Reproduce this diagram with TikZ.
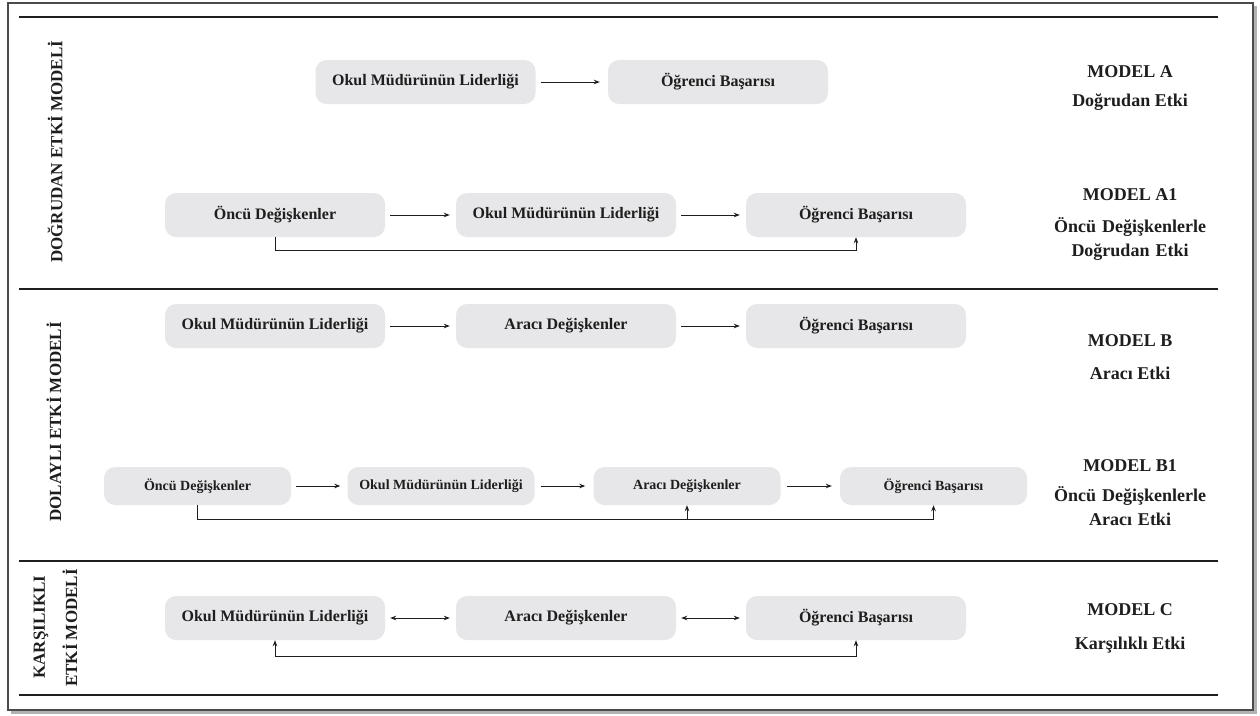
\documentclass[tikz,border=0pt]{standalone}
\usepackage{fontspec}
\setmainfont{Liberation Serif}
\usetikzlibrary{arrows.meta,calc}
\definecolor{boxgray}{HTML}{E7E7E9}
\definecolor{ink}{HTML}{1E1E1E}
\tikzset{
  box/.style={fill=boxgray,rounded corners=11pt,minimum width=220pt,minimum height=44pt,inner sep=0pt,text=ink,font=\fontsize{16}{18}\selectfont\bfseries},
  smallbox/.style={box,minimum width=187pt,minimum height=38pt,font=\fontsize{14}{16}\selectfont\bfseries},
  conn/.style={draw=ink,line width=0.9pt,-{Stealth[length=6pt,width=4.5pt]}},
  biconn/.style={draw=ink,line width=0.9pt,{Stealth[length=6pt,width=4.5pt]}-{Stealth[length=6pt,width=4.5pt]}},
  plain/.style={draw=ink,line width=0.9pt},
  modeltitle/.style={text=ink,font=\fontsize{18}{20}\selectfont\bfseries},
  modeltext/.style={text=ink,font=\fontsize{18}{20}\selectfont\bfseries,align=center},
  sidelabel/.style={text=ink,rotate=90,font=\fontsize{17}{19}\selectfont\bfseries,align=center},
  rule/.style={draw=ink,line width=1.3pt}
}
\begin{document}
\begin{tikzpicture}[x=1pt,y=-1pt]
\useasboundingbox (0,0) rectangle (1260,715);
\fill[white] (0,0) rectangle (1260,715);
% frame with shadow
\fill[gray!60] (11,6) rectangle (1257,714);
\fill[white] (8,3) rectangle (1253,710);
\draw[ink!80,line width=1.4pt] (8,3) rectangle (1253,710);
% horizontal rules
\draw[rule] (19,17) -- (1218,17);
\draw[rule,line width=2.6pt] (19,289) -- (1218,289);
\draw[rule] (19,561) -- (1218,561);
\draw[rule] (19,695) -- (1218,695);
% side labels
\node[sidelabel] (sideA) at (55,152) {DOĞRUDAN ETKİ MODELİ};
\node[sidelabel] (sideB) at (54,422) {DOLAYLI ETKİ MODELİ};
\node[sidelabel] (sideC1) at (41,627) {KARŞILIKLI};
\node[sidelabel] (sideC2) at (70,628) {ETKİ MODELİ};
% Model A
\node[box] (aL) at (425.5,82) {Okul Müdürünün Liderliği};
\node[box] (aS) at (718,82) {Öğrenci Başarısı};
\draw[conn,shorten <=5pt,shorten >=8pt] (aL) -- (aS);
% Model A1
\node[box] (a1P) at (275,215) {Öncü Değişkenler};
\node[box] (a1L) at (566,215) {Okul Müdürünün Liderliği};
\node[box] (a1S) at (856,215) {Öğrenci Başarısı};
\draw[conn,shorten <=5pt,shorten >=6pt] (a1P) -- (a1L);
\draw[conn,shorten <=5pt,shorten >=6pt] (a1L) -- (a1S);
\draw[conn] (a1P.south) -- ++(0,13) -| (a1S.south);
% Model B
\node[box] (bL) at (275,326) {Okul Müdürünün Liderliği};
\node[box] (bM) at (566,326) {Aracı Değişkenler};
\node[box] (bS) at (856,326) {Öğrenci Başarısı};
\draw[conn,shorten <=5pt,shorten >=6pt] (bL) -- (bM);
\draw[conn,shorten <=5pt,shorten >=6pt] (bM) -- (bS);
% Model B1
\node[smallbox] (b1P) at (197.5,486) {Öncü Değişkenler};
\node[smallbox] (b1L) at (441,486) {Okul Müdürünün Liderliği};
\node[smallbox] (b1M) at (687,486) {Aracı Değişkenler};
\node[smallbox] (b1S) at (933.5,486) {Öğrenci Başarısı};
\draw[conn,shorten <=5pt,shorten >=7pt] (b1P) -- (b1L);
\draw[conn,shorten <=6pt,shorten >=8pt] (b1L) -- (b1M);
\draw[conn,shorten <=6pt,shorten >=8pt] (b1M) -- (b1S);
\coordinate (b1base) at ($(b1P.south)+(0,14)$);
\draw[conn] (b1P.south) -- (b1base) -| (b1S.south);
\draw[conn] (b1M.south |- b1base) -- (b1M.south);
% Model C
\node[box] (cL) at (275,618) {Okul Müdürünün Liderliği};
\node[box] (cM) at (566,618) {Aracı Değişkenler};
\node[box] (cS) at (856,618) {Öğrenci Başarısı};
\draw[biconn,shorten <=5pt,shorten >=6pt] (cL) -- (cM);
\draw[biconn,shorten <=5pt,shorten >=6pt] (cM) -- (cS);
\draw[biconn] (cL.south) -- ++(0,16) -| (cS.south);
% right labels
\node[modeltitle] (tA) at (1130,72) {MODEL A};
\node[modeltext] (dA) at (1130,102) {Doğrudan Etki};
\node[modeltitle] (tA1) at (1130,195) {MODEL A1};
\node[modeltext,text width=160pt,font=\fontsize{18}{24}\selectfont\bfseries] (dA1) at (1130,239) {Öncü Değişkenlerle\\Doğrudan Etki};
\node[modeltitle] (tB) at (1130,341) {MODEL B};
\node[modeltext] (dB) at (1130,373) {Aracı Etki};
\node[modeltitle] (tB1) at (1130,466) {MODEL B1};
\node[modeltext,text width=160pt,font=\fontsize{18}{24}\selectfont\bfseries] (dB1) at (1130,506) {Öncü Değişkenlerle\\Aracı Etki};
\node[modeltitle] (tC) at (1130,610) {MODEL C};
\node[modeltext] (dC) at (1130,645) {Karşılıklı Etki};
\end{tikzpicture}
\end{document}
